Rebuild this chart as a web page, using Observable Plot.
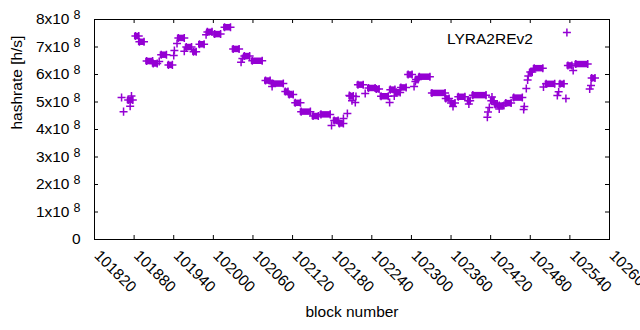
<!DOCTYPE html>
<html><head><meta charset="utf-8">
<script src="https://cdn.jsdelivr.net/npm/d3@7"></script>
<script src="https://cdn.jsdelivr.net/npm/@observablehq/plot@0.6"></script>
<style>html,body{margin:0;padding:0;background:#fff} svg{display:block}</style>
</head><body><div id="chart"></div>
<script>
// Runs of consecutive blocks with (nearly) the same hashrate; single points have start == end.
const runStart = [101861,101864,101871,101874,101876,101882,101888,101899,101909,101918,101921,101932,101940,101941,101945,101947,101956,101959,101970,101979,101989,101991,102002,102017,102030,102042,102044,102047,102059,102079,102089,102089,102109,102115,102124,102133,102151,102163,102179,102183,102191,102197,102203,102206,102207,102210,102215,102216,102219,102230,102235,102247,102254,102267,102268,102274,102277,102284,102295,102304,102306,102307,102312,102331,102352,102360,102363,102371,102386,102387,102393,102415,102416,102418,102421,102422,102427,102433,102433,102443,102455,102470,102471,102474,102476,102477,102480,102486,102500,102504,102521,102523,102525,102534,102537,102545,102549,102570,102572,102573];
const runEnd   = [101861,101864,101878,101874,101876,101887,101895,101908,101915,101918,101929,101938,101940,101941,101945,101956,101956,101967,101974,101986,101989,101998,102011,102026,102039,102042,102044,102055,102074,102086,102106,102089,102113,102121,102132,102147,102159,102177,102179,102189,102197,102197,102203,102206,102212,102210,102215,102216,102227,102230,102245,102251,102265,102267,102275,102274,102283,102292,102301,102304,102306,102310,102328,102351,102357,102366,102363,102381,102389,102387,102413,102415,102416,102418,102425,102422,102430,102433,102440,102451,102468,102470,102471,102474,102476,102477,102483,102499,102500,102517,102521,102523,102531,102534,102543,102545,102567,102570,102572,102578];
const runRate  = [5.16e8,4.65e8,5.07e8,4.85e8,5.22e8,7.40e8,7.19e8,6.49e8,6.40e8,6.47e8,6.72e8,6.35e8,6.69e8,6.87e8,7.13e8,7.33e8,6.85e8,7.00e8,6.83e8,7.10e8,7.45e8,7.55e8,7.47e8,7.72e8,6.93e8,6.45e8,6.58e8,6.67e8,6.50e8,5.78e8,5.67e8,5.56e8,5.38e8,5.27e8,4.97e8,4.65e8,4.49e8,4.55e8,4.15e8,4.33e8,4.22e8,4.40e8,4.58e8,5.24e8,5.22e8,5.05e8,4.98e8,5.20e8,5.63e8,5.31e8,5.51e8,5.47e8,5.21e8,4.98e8,5.45e8,5.22e8,5.35e8,5.53e8,6.00e8,5.56e8,5.75e8,5.82e8,5.92e8,5.33e8,5.13e8,4.96e8,4.84e8,5.19e8,5.05e8,4.93e8,5.25e8,4.45e8,4.64e8,4.80e8,5.05e8,5.18e8,4.91e8,4.75e8,4.87e8,4.96e8,5.16e8,4.73e8,4.84e8,5.49e8,5.80e8,5.95e8,6.09e8,6.23e8,5.55e8,5.66e8,5.24e8,5.37e8,5.66e8,5.13e8,6.33e8,6.15e8,6.38e8,5.47e8,5.60e8,5.87e8];

const xTicks = [101820,101880,101940,102000,102060,102120,102180,102240,102300,102360,102420,102480,102540,102600];
const yTicks = [0,1e8,2e8,3e8,4e8,5e8,6e8,7e8,8e8];
const seriesName = "LYRA2REv2";
const xLabel = "block number";
const yLabel = "hashrate [h/s]";

const color = "#9400d3";
const W = 640, H = 330, mL = 94, mR = 31, mT = 19, mB = 91;
const fw = W - mL - mR, fh = H - mT - mB;
const tick = 4;

const runs = runStart.map((s, i) => ({start: s, end: runEnd[i], rate: runRate[i]}));
const longRuns = runs.filter(d => d.end > d.start);
const plusOpts = {y: "rate", symbol: "plus", r: 2.7, stroke: color, strokeWidth: 1.5};

const mant = d => `${Math.round(d / Math.pow(10, Math.floor(Math.log10(d))))}x10`;
const expo = d => `${Math.floor(Math.log10(d))}`;

const chart = Plot.plot({
  width: W, height: H,
  marginLeft: mL, marginRight: mR, marginTop: mT, marginBottom: mB,
  x: {domain: [101820, 102600], axis: null},
  y: {domain: [0, 8e8], axis: null},
  style: {fontFamily: "'Liberation Sans', Arial, sans-serif", fontSize: "15.5px", background: "#fff", color: "#000"},
  marks: [
    Plot.ruleY(longRuns, {x1: "start", x2: "end", y: "rate", stroke: color, strokeWidth: 6.5, insetLeft: -1, insetRight: -1}),
    Plot.dot(runs, {x: "start", ...plusOpts}),
    Plot.dot(longRuns, {x: "end", ...plusOpts}),
    Plot.frame({stroke: "#000", strokeWidth: 1}),
    Plot.tickX(xTicks, {x: d => d, insetTop: fh - tick, stroke: "#000"}),
    Plot.tickX(xTicks, {x: d => d, insetBottom: fh - tick, stroke: "#000"}),
    Plot.tickY(yTicks, {y: d => d, insetRight: fw - tick, stroke: "#000"}),
    Plot.tickY(yTicks, {y: d => d, insetLeft: fw - tick, stroke: "#000"}),
    Plot.text(xTicks, {x: d => d, text: d => String(d), frameAnchor: "bottom", dy: 17, dx: -1, rotate: 45, textAnchor: "start", fill: "#000"}),
    Plot.text(yTicks.filter(d => d === 0), {y: d => d, text: () => "0", frameAnchor: "left", dx: -14, textAnchor: "end", fill: "#000"}),
    Plot.text(yTicks.filter(d => d > 0), {y: d => d, text: mant, frameAnchor: "left", dx: -25, textAnchor: "end", fill: "#000"}),
    Plot.text(yTicks.filter(d => d > 0), {y: d => d, text: expo, frameAnchor: "left", dx: -14, dy: -4.5, textAnchor: "end", fontSize: 12.5, fill: "#000"}),
    Plot.text([yLabel], {text: d => d, frameAnchor: "left", dx: -77, rotate: -90, fill: "#000"}),
    Plot.text([xLabel], {text: d => d, frameAnchor: "bottom", dy: 77, fill: "#000"}),
    Plot.text([seriesName], {text: d => d, frameAnchor: "top-right", dx: -76.6, dy: 13, textAnchor: "end", fill: "#000"}),
    Plot.dot([seriesName], {frameAnchor: "top-right", dx: -42.6, dy: 13, symbol: "plus", r: 2.7, stroke: color, strokeWidth: 1.5})
  ]
});
document.getElementById("chart").appendChild(chart);
</script>
</body></html>
